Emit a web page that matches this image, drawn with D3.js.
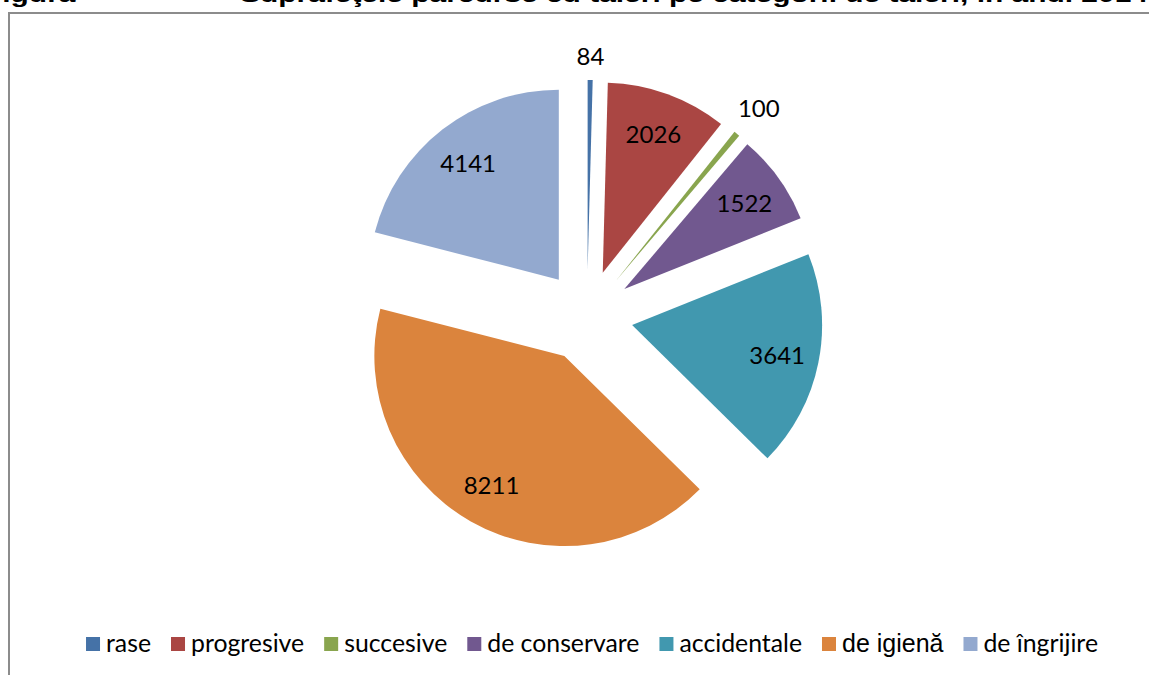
<!DOCTYPE html>
<html>
<head>
<meta charset="utf-8">
<script src="https://cdn.jsdelivr.net/npm/d3@7"></script>
<style>
  html, body { margin: 0; padding: 0; background: #ffffff; }
  svg { display: block; }
</style>
</head>
<body>
<svg id="chart" width="1149" height="675"></svg>
<script>
const categories = ["rase", "progresive", "succesive", "de conservare", "accidentale", "de igienă", "de îngrijire"];
const values = [84, 2026, 100, 1522, 3641, 8211, 4141];
const colors = ["#4572A7", "#AA4643", "#89A54E", "#71588F", "#4198AF", "#DB843D", "#93A9CF"];
const titleParts = ["Figura", "Suprafeţele parcurse cu tăieri pe categorii de tăieri, în anul 2014"];

const svg = d3.select("#chart");

// chart border (clipped by the picture on right/bottom)
svg.append("rect")
  .attr("x", 9).attr("y", 13)
  .attr("width", 1160).attr("height", 700)
  .attr("fill", "none")
  .attr("stroke", "#8c8c8c")
  .attr("stroke-width", 2);

// title (mostly cut off at the top, as in the source picture)
const titleG = svg.append("g").attr("font-family", "'Liberation Sans', Arial, sans-serif")
  .attr("font-weight", "bold").attr("font-size", 22).attr("fill", "#000");
const tX = [-16, 240];
titleParts.forEach((t, i) => {
  const el = titleG.append("text").attr("x", tX[i]).attr("y", 2).text(t);
  const len = el.node().getComputedTextLength();
  el.attr("textLength", len * 1.36).attr("lengthAdjust", "spacingAndGlyphs");
});

// pie
const cx = 587, cy = 316, r = 190, explode = 46, labelDist = 148;
const pie = d3.pie().sort(null).value(d => d.v);
const data = categories.map((c, i) => ({ c, v: values[i], col: colors[i] }));
const arcs = pie(data);
const arc = d3.arc().innerRadius(0).outerRadius(r);

const pieG = svg.append("g").attr("transform", `translate(${cx},${cy})`);

arcs.forEach(a => {
  const mid = (a.startAngle + a.endAngle) / 2;
  const dx = Math.sin(mid), dy = -Math.cos(mid);
  const g = pieG.append("g").attr("transform", `translate(${dx * explode},${dy * explode})`);
  g.append("path").attr("d", arc(a)).attr("fill", a.data.col);
});

// labels
const labG = pieG.append("g").attr("font-family", "Lato, 'Open Sans', sans-serif")
  .attr("font-size", 24).attr("fill", "#000");
arcs.forEach(a => {
  const mid = (a.startAngle + a.endAngle) / 2;
  const dx = Math.sin(mid), dy = -Math.cos(mid);
  const t = labG.append("text").attr("text-anchor", "middle")
    .attr("dominant-baseline", "central").text(a.data.v);
  const small = (a.endAngle - a.startAngle) < 0.1;
  let dist;
  if (small) {
    const bb = t.node().getBBox();
    dist = explode + r + 12 + Math.abs(dx) * bb.width / 2 + Math.abs(dy) * bb.height / 2 - 2;
  } else {
    dist = explode + labelDist;
  }
  t.attr("x", dx * dist).attr("y", dy * dist);
});

// legend
const legG = svg.append("g");
let xCur = 0;
data.forEach((d) => {
  const g = legG.append("g");
  g.append("rect").attr("x", 0).attr("y", -7).attr("width", 14).attr("height", 14).attr("fill", d.col);
  const special = d.c === "de igienă";
  const t = g.append("text").attr("x", 20).attr("y", 8)
    .attr("font-family", special ? "'Liberation Sans', Arial, sans-serif" : "Lato, 'Open Sans', sans-serif")
    .attr("font-size", special ? 25 : 24.8)
    .attr("fill", "#000").text(d.c);
  const w = t.node().getComputedTextLength();
  g.attr("transform", `translate(${xCur},0)`);
  xCur += 20 + w + 20;
});
const totalW = xCur - 20;
legG.attr("transform", `translate(${592 - totalW / 2},644)`);
</script>
</body>
</html>
